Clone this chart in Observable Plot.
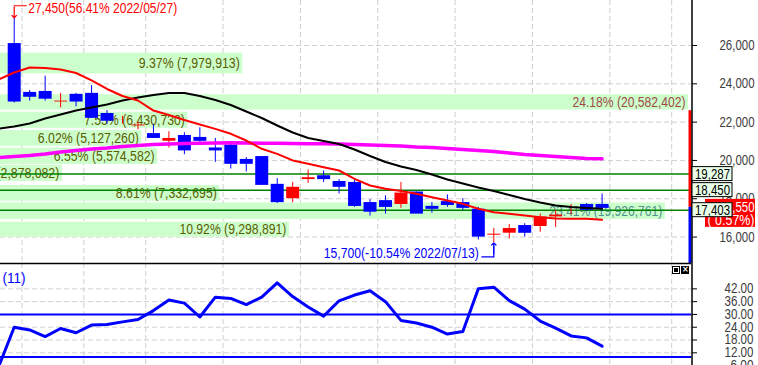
<!DOCTYPE html>
<html><head><meta charset="utf-8">
<script src="https://cdn.jsdelivr.net/npm/d3@7"></script>
<script src="https://cdn.jsdelivr.net/npm/@observablehq/plot@0.6"></script>
<style>
body{margin:0;background:#fff}
#wrap{position:relative;width:758px;height:365px;overflow:hidden;background:#fff}
#wrap svg{position:absolute;overflow:visible;max-width:none}
.ic{position:absolute;box-sizing:border-box;width:8px;height:8px;border:1px solid #000}
</style></head><body><div id="wrap"></div>
<script>
const FONT = '"Liberation Sans",Arial,sans-serif';
const FS = 14;

// ---- data ----
const idx = d3.range(0, 39);            // trading days from 2022/05/27
const open  = [26050,23500,23550,23000,23400,23450,22400,22050,21750,21350,20950,21250,21150,20600,20750,20000,20150,18700,17950,18950,19150,18850,18800,17750,17850,17650,18300,17550,17800,17750,17400,16100,16150,16550,16500,17000,17300,17650,17650];
const high  = [27450,23650,24400,23500,23500,23900,22600,22300,22000,21850,21500,21450,21700,21150,20850,20150,20200,19050,18850,19500,19450,19000,18950,17950,18150,18850,18350,17800,18200,18000,17550,16450,16650,16700,17200,17400,17700,17750,18250];
const low   = [23000,23100,23100,22750,22800,22200,21900,21900,21600,21150,20650,20300,20950,19900,19550,19400,18700,17750,17800,18800,18850,18250,17550,17100,17200,17500,17250,17250,17550,17400,15850,15700,15900,16000,16250,16500,17150,17350,17350];
const close = [23100,23350,23250,23150,23100,22250,22100,22150,21900,21200,21200,20550,21050,20550,19850,19850,18750,17850,18650,19150,19050,18650,17650,17350,17600,18350,17250,17500,17700,17550,16050,16150,16500,16250,17100,17200,17400,17450,17550];

const maIdx = d3.range(-1, 39);
const ma10 = [24225,24590,24850,24825,24745,24565,24175,23730,23365,23130,22605,22370,22110,21875,21650,21390,21040,20610,20345,20000,19825,19645,19475,19040,18690,18520,18405,18260,18080,17910,17735,17475,17300,17215,17125,17035,16970,16955,16955,16900];
const ma20 = [21665,21770,21930,22190,22400,22605,22765,22920,23130,23285,23415,23520,23520,23365,23155,22895,22555,22215,21825,21460,21170,21015,20860,20570,20230,19920,19685,19500,19265,19005,18795,18590,18405,18195,17985,17805,17650,17570,17520,17475];
const ma60 = [20155,20205,20260,20335,20440,20520,20595,20650,20730,20780,20835,20860,20885,20900,20910,20920,20910,20900,20895,20885,20875,20870,20860,20835,20805,20780,20755,20700,20675,20625,20570,20520,20465,20390,20310,20260,20205,20155,20100,20085];
const osc  = [5.6,24.0,22.7,19.6,23.4,21.4,25.0,25.3,26.5,27.6,31.8,36.8,35.3,28.8,38.1,37.5,34.6,38.1,44.8,38.4,33.5,29.2,36.4,39.1,41.1,36.0,27.2,26.0,24.0,20.8,22.0,42.0,42.8,36.5,32.5,26.9,23.6,19.9,19.0,15.1];

const bandPct = [9.37,24.18,7.55,6.02,6.55,3.38,8.61,23.41,10.92];
const bandVol = [7979913,20582402,6430730,5127260,5574582,2878082,7332695,19926761,9298891];
const bandHi  = [25600,23430,22520,21560,20640,19740,18690,17780,16780];
const bandLo  = [24520,22630,21680,20740,19790,18900,17870,16920,15990];

const levels = [19287, 18450, 17403];
const current = 17550;
const currentChg = "( 0.57%)";
const rangeTop = 22600;
const extremes = [
  {i: 0, v: 27450, text: "27,450(56.41% 2022/05/27)", color: "#ff0000", up: true},
  {i: 31, v: 15700, text: "15,700(-10.54% 2022/07/13)", color: "#0000ff", up: false}
];
const gridIdx = [0.5, 4.5, 8.5, 13.5, 18.5, 23.5, 28.5, 33.5, 38.5, 42.5];
const priceTicks = [16000, 18000, 20000, 22000, 24000, 26000];
const oscTicks = [6, 12, 18, 24, 30, 36, 42];
const oscGrid = [12, 18, 24, 36, 42];
const oscLevels = [30, 10];
const oscLabel = "(11)";

// ---- layout ----
const W = 758, H1 = 263, H2 = 103, MR = 67;
const xDomain = [-0.886, 43.78];
const yDomain = [14620, 28350];
const oscDomain = [6.04, 53.9];
const xEdge = () => xDomain[1];

const candles = idx.map((i, k) => ({i, o: open[k], h: high[k], l: low[k], c: close[k]}));
const candleColor = d => d.c >= d.o ? "#ff0000" : "#0000ff";
const mas = maIdx.map((i, k) => ({i, ma10: ma10[k], ma20: ma20[k], ma60: ma60[k], osc: osc[k]}));
const fmt = d3.format(",");
const maxVol = d3.max(bandVol);
const bands = bandPct.map((p, k) => ({
  pct: p, vol: bandVol[k], hi: bandHi[k], lo: bandLo[k],
  label: `${p.toFixed(2)}% (${fmt(bandVol[k])})`,
  color: bandVol[k] === maxVol ? "#a04848" : (current >= bandLo[k] && current <= bandHi[k] ? "#4f8f8f" : "#5c5c00")
}));

const baseStyle = {background: "transparent", fontFamily: FONT, overflow: "visible"};
const gridStyle = {stroke: "#cfcfcf", strokeDasharray: "5,3", strokeWidth: 1};
const wrap = document.getElementById("wrap");
function place(svg, left, top) { svg.style.left = left + "px"; svg.style.top = top + "px"; wrap.appendChild(svg); }

// grid layer
const gridPlot = Plot.plot({
  width: W, height: H1, marginLeft: 0, marginRight: MR, marginTop: 0, marginBottom: 0,
  style: baseStyle,
  x: {domain: xDomain, axis: null}, y: {domain: yDomain, axis: null},
  marks: [Plot.ruleX(gridIdx, gridStyle), Plot.ruleY(priceTicks, gridStyle)]
});
place(gridPlot, 0, 0);

// volume-by-price bands
const bandPlot = Plot.plot({
  width: 728, height: H1, marginLeft: 0, marginRight: 0, marginTop: 0, marginBottom: 0,
  style: baseStyle,
  x: {domain: [0, maxVol], axis: null}, y: {domain: yDomain, axis: null},
  marks: [
    Plot.rect(bands, {x1: 0, x2: "vol", y1: "lo", y2: "hi", fill: "#ccffcc"}),
    Plot.text(bands, {x: "vol", y: d => (d.lo + d.hi) / 2, text: "label", textAnchor: "end", dx: -3, fill: "color", fontSize: FS})
  ]
});
place(bandPlot, -40, 0);

// main price layer
const mainPlot = Plot.plot({
  width: W, height: H1, marginLeft: 0, marginRight: MR, marginTop: 0, marginBottom: 0,
  style: baseStyle,
  x: {domain: xDomain, axis: null}, y: {domain: yDomain, axis: null},
  marks: [
    Plot.ruleY(levels, {stroke: "#008000", strokeWidth: 1.5}),
    Plot.ruleX(candles, {x: "i", y1: "l", y2: "h", stroke: candleColor, strokeWidth: 1}),
    Plot.ruleX(candles, {x: "i", y1: "o", y2: "c", stroke: candleColor, strokeWidth: 13, insetTop: -1, insetBottom: -1}),
    Plot.line(mas, {x: "i", y: "ma60", stroke: "#ff00ff", strokeWidth: 3.5}),
    Plot.line(mas, {x: "i", y: "ma20", stroke: "#000000", strokeWidth: 2}),
    Plot.line(mas, {x: "i", y: "ma10", stroke: "#ff0000", strokeWidth: 2}),
    // extreme annotations
    Plot.vector(extremes, {x: "i", y: "v", length: 11, rotate: d => d.up ? 180 : 0, anchor: "end", stroke: "color", strokeWidth: 1.2}),
    Plot.vector(extremes.filter(d => d.up), {x: "i", y: "v", dy: -12, length: 12, rotate: 270, anchor: "end", r: 0, stroke: "color", strokeWidth: 1.2}),
    Plot.vector(extremes.filter(d => !d.up), {x: "i", y: "v", dy: 14, length: 12, rotate: 90, anchor: "end", r: 0, stroke: "color", strokeWidth: 1.2}),
    Plot.vector(extremes.filter(d => !d.up), {x: "i", y: "v", dy: 14, length: 11, rotate: 0, anchor: "start", r: 0, stroke: "color", strokeWidth: 1.2}),
    Plot.text(extremes.filter(d => d.up), {x: "i", y: "v", text: "text", dx: 14, dy: -9, textAnchor: "start", fill: "color", fontSize: FS}),
    Plot.text(extremes.filter(d => !d.up), {x: "i", y: "v", text: "text", dx: -15, dy: 11, textAnchor: "end", fill: "color", fontSize: FS}),
    // right-edge range bar and frame lines
    Plot.ruleX([{a: rangeTop, b: current, c: "#ff0000"}, {a: current, b: yDomain[0], c: "#0000ff"}], {x: xEdge, y1: "a", y2: "b", stroke: "c", strokeWidth: 3, dx: -1.5}),
    Plot.ruleX([xDomain[1]], {stroke: "#000", strokeWidth: 1.5, dx: 0.5}),
    Plot.axisY(priceTicks, {anchor: "right", tickSize: 5, tickPadding: 58, textAnchor: "end", tickFormat: fmt, stroke: "#000", fill: "#3c3c3c", fontSize: FS, label: null}),
    // current price box
    Plot.rect([current], {x1: xEdge, x2: xEdge, y1: d => d, y2: d => d, insetLeft: 14, insetRight: -64, insetTop: -8, insetBottom: -20, fill: "#ff0000"}),
    Plot.text([current], {x: xEdge, y: d => d, text: d => fmt(d), dx: 63, dy: 0, textAnchor: "end", fill: "#fff", fontSize: FS}),
    Plot.text([current], {x: xEdge, y: d => d, text: () => currentChg, dx: 63, dy: 13, textAnchor: "end", fill: "#fff", fontSize: FS}),
    // level boxes
    Plot.rect(levels, {x1: xEdge, x2: xEdge, y1: d => d, y2: d => d, insetLeft: 1, insetRight: -41, insetTop: -7, insetBottom: -7, fill: "#eaffea", stroke: "#000", strokeWidth: 1}),
    Plot.text(levels, {x: xEdge, y: d => d, text: d => fmt(d), dx: 21, textAnchor: "middle", fill: "#000", fontSize: FS})
  ]
});
place(mainPlot, 0, 0);

// lower indicator panel
const lowPlot = Plot.plot({
  width: W, height: H2, marginLeft: 0, marginRight: MR, marginTop: 1, marginBottom: 0,
  style: baseStyle,
  x: {domain: xDomain, axis: null}, y: {domain: oscDomain, axis: null},
  marks: [
    Plot.ruleX(gridIdx, gridStyle),
    Plot.ruleY(oscGrid, gridStyle),
    Plot.ruleY(oscLevels, {stroke: "#0000ff", strokeWidth: 2}),
    Plot.line(mas, {x: "i", y: "osc", stroke: "#0000ff", strokeWidth: 3}),
    Plot.ruleY([oscDomain[1]], {stroke: "#000", strokeWidth: 1.5}),
    Plot.ruleX([xDomain[1]], {stroke: "#000", strokeWidth: 1.5, dx: 0.5}),
    Plot.axisY(oscTicks, {anchor: "right", tickSize: 5, tickPadding: 57, textAnchor: "end", tickFormat: d3.format(".2f"), stroke: "#000", fill: "#3c3c3c", fontSize: FS, label: null}),
    Plot.text([oscLabel], {frameAnchor: "top-left", text: d => d, dx: 2, dy: 10, fill: "#0000ff", fontSize: FS})
  ]
});
place(lowPlot, 0, 262);

// half-width (6px per character) text, like the terminal's bitmap font
wrap.querySelectorAll("text").forEach(t => {
  const s = t.textContent;
  if (!s) return;
  t.setAttribute("textLength", 6 * s.length - 1);
  t.setAttribute("lengthAdjust", "spacingAndGlyphs");
});

// panel control icons
const ic1 = document.createElement("div"); ic1.className = "ic";
ic1.style.cssText = "left:672px;top:266px;background:#fff;box-shadow:inset 0 0 0 1px #fff, inset 0 0 0 3px #000";
const ic2 = document.createElement("div"); ic2.className = "ic";
ic2.style.cssText = "left:681px;top:266px;background:#000;color:#fff;font:bold 8px/6px DejaVu Sans;text-align:center";
ic2.textContent = "×";
wrap.appendChild(ic1); wrap.appendChild(ic2);
</script></body></html>
